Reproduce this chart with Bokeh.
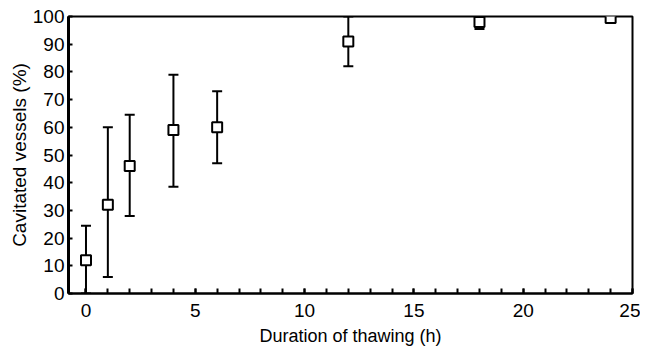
from bokeh.plotting import figure
from bokeh.models import ColumnDataSource, Whisker, TeeHead, FixedTicker, Range1d
from bokeh.embed import file_html
from bokeh.resources import INLINE

hours = [0, 1, 2, 4, 6, 12, 18, 24]
cavitated = [12, 32, 46, 59, 60, 91, 98, 99.5]
upper = [24.5, 60, 64.5, 79, 73, 100, 100, 99.5]
lower = [0, 6, 28, 38.5, 47, 82, 95.5, 99.5]

x_ticks = [0, 5, 10, 15, 20, 25]
y_ticks = [0, 10, 20, 30, 40, 50, 60, 70, 80, 90, 100]

src = ColumnDataSource(dict(x=hours, y=cavitated, upper=upper, lower=lower))

p = figure(width=640, height=348, output_backend="svg", toolbar_location=None,
           x_range=Range1d(-0.8, 25), y_range=Range1d(0, 100),
           min_border_left=68, min_border_right=8, min_border_top=16, min_border_bottom=54)
p.xgrid.visible = False
p.ygrid.visible = False
p.outline_line_color = "black"
p.outline_line_width = 2
p.background_fill_color = "white"
p.border_fill_color = "white"

FONT = "Liberation Sans"
for ax in (p.xaxis[0], p.yaxis[0]):
    ax.axis_line_color = "black"
    ax.major_tick_line_color = "black"
    ax.minor_tick_line_color = "black"
    ax.major_tick_out = 0
    ax.minor_tick_out = 0
    ax.major_tick_line_width = 2
    ax.minor_tick_line_width = 2
    ax.major_label_text_font = FONT
    ax.major_label_text_font_size = "19px"
    ax.major_label_text_color = "black"
    ax.axis_label_text_font = FONT
    ax.axis_label_text_font_style = "normal"
    ax.axis_label_text_color = "black"

p.xaxis.axis_label_text_font_size = "18px"
p.yaxis.axis_label_text_font_size = "19px"
p.xaxis.ticker = FixedTicker(ticks=x_ticks, minor_ticks=list(range(0, 26)))
p.yaxis.ticker = FixedTicker(ticks=y_ticks, minor_ticks=[])
p.xaxis.axis_line_width = 2
p.yaxis.axis_line_width = 3
p.xaxis.major_tick_in = 5
p.xaxis.minor_tick_in = 5
p.yaxis.major_tick_in = 4
p.yaxis.minor_tick_in = 0
p.xaxis.major_label_standoff = 10
p.yaxis.major_label_standoff = 4
p.xaxis.axis_label = "Duration of thawing (h)"
p.yaxis.axis_label = "Cavitated vessels (%)"
p.xaxis.axis_label_standoff = 6
p.yaxis.axis_label_standoff = 0

w = Whisker(source=src, base="x", upper="upper", lower="lower",
            line_color="black", line_width=2,
            upper_head=TeeHead(size=10, line_color="black", line_width=2),
            lower_head=TeeHead(size=10, line_color="black", line_width=2))
p.add_layout(w)

p.scatter("x", "y", source=src, marker="square", size=10, fill_color="white",
          line_color="black", line_width=2)

open("out.html", "w").write(file_html(p, INLINE))
